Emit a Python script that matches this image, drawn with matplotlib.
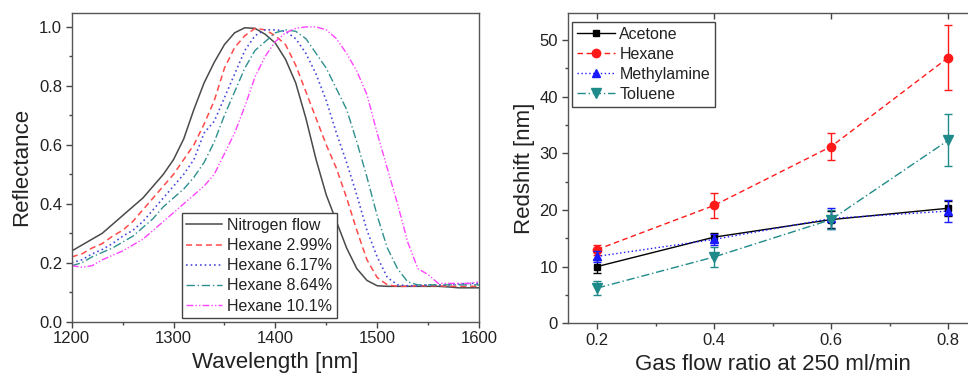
import matplotlib
matplotlib.use("Agg")
import matplotlib.pyplot as plt
from matplotlib.ticker import MultipleLocator, FormatStrFormatter

plt.rcParams['font.family'] = ['Liberation Sans', 'DejaVu Sans']

# ---------------- Left panel data ----------------
wavelength = [1200, 1210, 1220, 1230, 1240, 1250, 1260, 1270, 1280, 1290,
              1300, 1310, 1320, 1330, 1340, 1350, 1360, 1370, 1380, 1390,
              1400, 1410, 1420, 1430, 1440, 1450, 1460, 1470, 1480, 1490,
              1500, 1510, 1520, 1530, 1540, 1550, 1560, 1570, 1580, 1590, 1600]

nitrogen = [0.24, 0.26, 0.28, 0.30, 0.33, 0.36, 0.39, 0.42, 0.46, 0.50,
            0.55, 0.62, 0.72, 0.81, 0.88, 0.94, 0.98, 0.997, 0.995, 0.975,
            0.945, 0.89, 0.81, 0.69, 0.55, 0.43, 0.34, 0.25, 0.18, 0.14,
            0.122, 0.12, 0.12, 0.12, 0.12, 0.12, 0.12, 0.118, 0.115, 0.115, 0.115]

hexane_299 = [0.22, 0.23, 0.25, 0.265, 0.29, 0.31, 0.34, 0.38, 0.42, 0.46,
              0.50, 0.55, 0.60, 0.67, 0.75, 0.86, 0.93, 0.97, 0.995, 0.99,
              0.97, 0.94, 0.87, 0.78, 0.69, 0.60, 0.52, 0.42, 0.31, 0.21,
              0.15, 0.125, 0.12, 0.12, 0.122, 0.122, 0.122, 0.12, 0.12, 0.12, 0.12]

hexane_617 = [0.20, 0.21, 0.23, 0.245, 0.265, 0.29, 0.31, 0.34, 0.38, 0.42,
              0.46, 0.50, 0.55, 0.64, 0.68, 0.76, 0.84, 0.92, 0.97, 0.99,
              0.99, 0.985, 0.96, 0.91, 0.84, 0.75, 0.64, 0.54, 0.43, 0.31,
              0.22, 0.15, 0.125, 0.122, 0.122, 0.125, 0.125, 0.125, 0.128, 0.13, 0.13]

hexane_864 = [0.19, 0.20, 0.22, 0.235, 0.25, 0.27, 0.29, 0.32, 0.35, 0.39,
              0.42, 0.45, 0.49, 0.54, 0.61, 0.70, 0.78, 0.86, 0.92, 0.95,
              0.98, 0.99, 0.985, 0.96, 0.91, 0.86, 0.79, 0.72, 0.61, 0.49,
              0.36, 0.25, 0.18, 0.135, 0.125, 0.125, 0.125, 0.125, 0.125, 0.125, 0.125]

hexane_101 = [0.19, 0.185, 0.19, 0.21, 0.225, 0.24, 0.26, 0.28, 0.31, 0.34,
              0.37, 0.40, 0.43, 0.46, 0.50, 0.57, 0.64, 0.73, 0.83, 0.90,
              0.95, 0.98, 0.995, 1.0, 1.0, 0.99, 0.96, 0.91, 0.85, 0.77,
              0.64, 0.52, 0.40, 0.27, 0.18, 0.16, 0.13, 0.13, 0.13, 0.13, 0.135]

spectra_labels = ['Nitrogen flow', 'Hexane 2.99%', 'Hexane 6.17%',
                  'Hexane 8.64%', 'Hexane 10.1%']

# ---------------- Right panel data ----------------
flow_ratio = [0.2, 0.4, 0.6, 0.8]
acetone = [10.0, 15.2, 18.3, 20.3]
acetone_err = [1.2, 0.8, 1.5, 1.3]
hexane = [13.0, 20.8, 31.2, 46.9]
hexane_err = [0.9, 2.2, 2.4, 5.7]
methylamine = [11.8, 14.8, 18.5, 19.8]
methylamine_err = [1.0, 1.0, 1.8, 2.0]
toluene = [6.2, 11.7, 18.3, 32.3]
toluene_err = [1.3, 1.8, 1.7, 4.6]
gas_labels = ['Acetone', 'Hexane', 'Methylamine', 'Toluene']

TXT = '#222222'
AX = '#444444'

def style_legend(leg):
    leg.get_frame().set_edgecolor('#444444')
    leg.get_frame().set_linewidth(1.0)
    for t in leg.get_texts():
        t.set_color(TXT)

# ---------------- Figure ----------------
fig = plt.figure(figsize=(9.68, 3.83), dpi=100)

ax1 = fig.add_axes([0.0741, 0.160, 0.4207, 0.806])
styles = [
    dict(color='#4a4a4a', linestyle='-', lw=1.1),
    dict(color='#ff4a4a', linestyle=(0, (4, 2.5)), lw=1.1),
    dict(color='#4a4ae0', linestyle=(0, (1, 1.8)), lw=1.2),
    dict(color='#2f8f8f', linestyle=(0, (6, 2, 1, 2)), lw=1.0),
    dict(color='#ff44ff', linestyle=(0, (5, 1.5, 1, 1.5, 1, 1.5)), lw=1.0),
]
for ys, lab, st in zip([nitrogen, hexane_299, hexane_617, hexane_864, hexane_101],
                       spectra_labels, styles):
    ax1.plot(wavelength, ys, label=lab, **st)

ax1.set_xlim(1200, 1600)
ax1.set_ylim(0, 1.047)
ax1.xaxis.set_major_locator(MultipleLocator(100))
ax1.xaxis.set_minor_locator(MultipleLocator(50))
ax1.yaxis.set_major_locator(MultipleLocator(0.2))
ax1.yaxis.set_minor_locator(MultipleLocator(0.1))
ax1.yaxis.set_major_formatter(FormatStrFormatter('%.1f'))
ax1.tick_params(which='major', direction='out', length=4, width=1, labelsize=12,
                colors=AX, labelcolor=TXT, pad=3)
ax1.tick_params(which='minor', direction='out', length=2.5, width=1, colors=AX)
ax1.set_xlabel('Wavelength [nm]', fontsize=16, color=TXT, labelpad=4)
ax1.set_ylabel('Reflectance', fontsize=16, color=TXT, labelpad=5)
for s in ax1.spines.values():
    s.set_color('#555555')
    s.set_linewidth(1.0)
leg1 = ax1.legend(loc='lower left', bbox_to_anchor=(0.27, 0.011), borderaxespad=0,
                  fontsize=11.5, handlelength=2.25, handletextpad=0.3,
                  labelspacing=0.32, borderpad=0.3, fancybox=False, framealpha=1)
style_legend(leg1)

# ---------------- Right panel ----------------
ax2 = fig.add_axes([0.5865, 0.156, 0.4233, 0.809])
series = [
    (acetone, acetone_err, dict(color='black', marker='s', linestyle='-', ms=5)),
    (hexane, hexane_err, dict(color='#ff1a1a', marker='o', linestyle=(0, (4, 2.5)), ms=6)),
    (methylamine, methylamine_err, dict(color='#1a1aff', marker='^', linestyle=(0, (1, 1.8)), ms=6)),
    (toluene, toluene_err, dict(color='#1f8a8a', marker='v', linestyle=(0, (6, 2, 1, 2)), ms=6.5)),
]
for (vals, errs, st), lab in zip(series, gas_labels):
    ax2.errorbar(flow_ratio, vals, yerr=errs, fmt='none', ecolor=st['color'],
                 capsize=3, elinewidth=1, capthick=1)
    ax2.plot(flow_ratio, vals, label=lab, lw=1.0, **st)

ax2.set_xlim(0.15, 0.85)
ax2.set_ylim(0, 54.7)
ax2.xaxis.set_major_locator(MultipleLocator(0.2))
ax2.xaxis.set_minor_locator(MultipleLocator(0.1))
ax2.xaxis.set_major_formatter(FormatStrFormatter('%.1f'))
ax2.yaxis.set_major_locator(MultipleLocator(10))
ax2.yaxis.set_minor_locator(MultipleLocator(5))
ax2.tick_params(which='major', direction='out', length=4, width=1, labelsize=12,
                colors=AX, labelcolor=TXT, pad=3)
ax2.tick_params(which='minor', direction='out', length=2.5, width=1, colors=AX)
ax2.set_xlabel('Gas flow ratio at 250 ml/min', fontsize=16, color=TXT, labelpad=4)
ax2.set_ylabel('Redshift [nm]', fontsize=16, color=TXT, labelpad=3)
for s in ax2.spines.values():
    s.set_color('#555555')
    s.set_linewidth(1.0)

# inward ticks on the top spine
top = ax2.secondary_xaxis('top')
top.xaxis.set_major_locator(MultipleLocator(0.2))
top.tick_params(direction='in', length=4, width=1, colors=AX, labeltop=False)
top.spines['top'].set_visible(False)

leg2 = ax2.legend(loc='upper left', bbox_to_anchor=(0.011, 0.973), borderaxespad=0,
                  fontsize=11.5, handlelength=2.4, handletextpad=0.25,
                  labelspacing=0.32, borderpad=0.3, fancybox=False, framealpha=1)
style_legend(leg2)

fig.savefig('out.png', dpi=100)
